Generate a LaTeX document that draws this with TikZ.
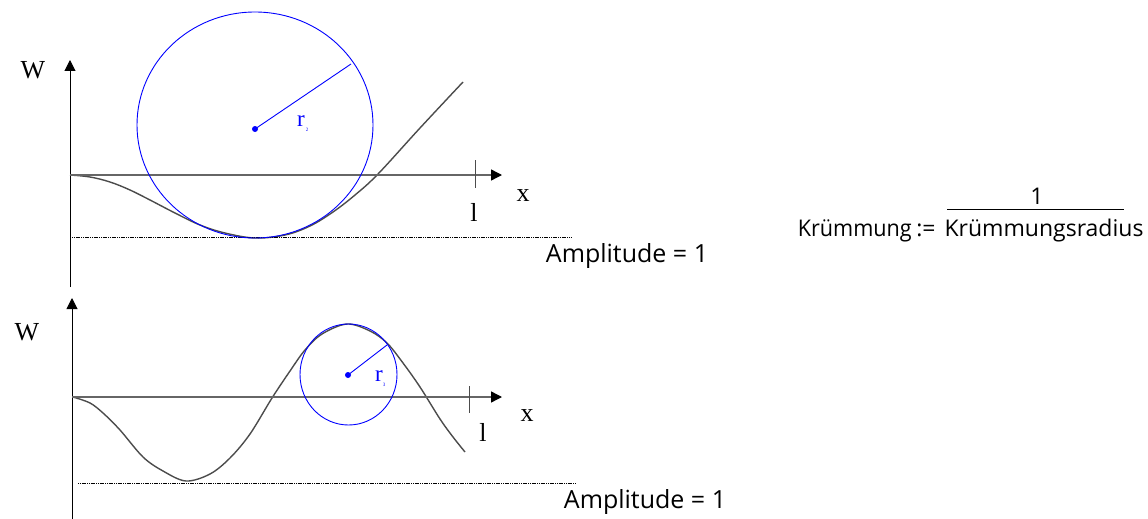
\documentclass[tikz,border=0pt]{standalone}
\usepackage{graphicx}
\usepackage{fontspec}
\setmainfont{Liberation Serif}
\newfontfamily\comicfont{Open Sans}
\usetikzlibrary{arrows.meta}
\begin{document}
\begin{tikzpicture}[x=1pt,y=-1pt,
  yaxis/.style={line width=1pt, draw=black, -{Triangle[length=11pt,width=11pt]}},
  xaxis/.style={line width=1.4pt, draw=black!60, -{Triangle[length=11pt,width=11pt,color=black]}},
  tick/.style={line width=1pt, draw=black!70},
  curve/.style={line width=1.4pt, draw=black!70, line join=round},
  circ/.style={draw=blue, line width=0.9pt},
  rad/.style={draw=blue, line width=0.9pt},
  ampl/.style={line width=0.8pt, dash pattern=on 1.2pt off 0.6pt},
  serif/.style={font=\fontsize{26}{30}\selectfont, inner sep=0pt},
  rlab/.style={text=blue, font=\fontsize{23}{26}\selectfont, inner sep=0pt},
  rsub/.style={text=blue, font=\fontsize{5}{6}\selectfont, inner sep=0pt},
  comic/.style={font=\comicfont\fontsize{23}{27}\selectfont, inner sep=0pt},
  amptext/.style={font=\comicfont\fontsize{25}{30}\selectfont, inner sep=0pt},
  cdot/.style={circle, fill=blue, inner sep=0pt, minimum size=6pt}]
\useasboundingbox (0,0) rectangle (1148,519);

% ---------- top plot ----------
\draw[curve] plot[smooth, tension=0.6] coordinates {(70,175) (90,177) (110,182) (130,190) (150,200) (175,213) (200,225) (225,233) (255,238) (285,235) (310,226) (333,212) (355,195) (378,174) (420,128) (463,82)};
\draw[ampl] (72,237) -- (572,237);
\draw[yaxis] (70,287) -- (70,60);
\draw[xaxis] (70,175) -- (502,175);
\draw[tick] (475,160) -- (475,188);
\draw[circ] (255,125) ellipse [x radius=118, y radius=113];
\node[cdot] (c1) at (255,129) {};
\coordinate (p1) at (351,64);
\draw[rad] (c1.center) -- (p1);
\node[rlab] (r1) at (301,121) {r};
\node[rsub] (s1) at (307,130) {2};
\node[serif] (w1) at (33,70) {W};
\node[serif] (x1) at (523,196) {x};
\node[serif] (l1) at (474,212) {l};
\node[amptext] (a1) at (627,256) {Amplitude = 1};

% ---------- bottom plot ----------
\draw[curve] plot[smooth, tension=0.55] coordinates {(73,397) (90,403) (103,413) (120,430) (143,457) (163,471) (186,481) (210,474) (230,458) (250,434) (272,398) (290,371) (305,350) (322,334) (347,324) (370,331) (387,343) (403,363) (420,387) (440,419) (453,437) (465,452)};
\draw[ampl] (78,483) -- (576,483);
\draw[yaxis] (72,519) -- (72,298);
\draw[xaxis] (72,397) -- (502,397);
\draw[tick] (469,386) -- (469,413);
\draw[circ] (348.5,374.5) ellipse [x radius=48.5, y radius=50.5];
\node[cdot] (c2) at (348,375) {};
\coordinate (p2) at (387,345);
\draw[rad] (c2.center) -- (p2);
\node[rlab] (r2) at (379,376) {r};
\node[rsub] (s2) at (384,385) {3};
\node[serif] (w2) at (27,332) {W};
\node[serif] (x2) at (527,416) {x};
\node[serif] (l2) at (483,432) {l};
\node[amptext] (a2) at (645,502) {Amplitude = 1};

% ---------- formula ----------
\node[comic, anchor=base] (den) at (1044,236) {Krümmungsradius};
\node[comic, anchor=base east] (lhs) at (912,236) {\scalebox{0.94}[1]{Krümmung}};
\node[comic, anchor=base] (def) at (926,236) {:=};
\node[comic] (num) at (1037,196) {1};
\draw[line width=0.9pt] (947,209) -- (1124,209);
\end{tikzpicture}
\end{document}
